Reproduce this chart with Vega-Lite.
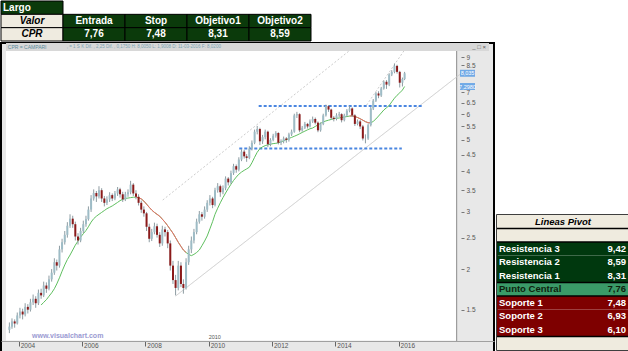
{
  "$schema": "https://vega.github.io/schema/vega-lite/v6.json",
  "padding": 0,
  "background": "white",
  "spacing": 0,
  "resolve": {"scale": {"fill": "independent", "color": "independent", "x": "independent", "y": "independent", "strokeDash": "independent"}},
  "config": {
    "font": "Liberation Sans",
    "view": {"stroke": null},
    "axis": {"grid": false, "title": null, "labelOverlap": false, "labelBound": false, "labelSeparation": 0},
    "axisX": {"offset": -11, "labelAlign": "left", "labelBaseline": "middle", "labelPadding": -1, "labelOffset": 1.5, "labelFontSize": 6.5, "labelColor": "#555555", "tickSize": 5, "tickColor": "#666666", "domainColor": "#a0a0a0", "labelOverlap": false, "labelFlush": false},
    "axisY": {"offset": -33, "labelFontSize": 6.5, "labelColor": "#555555", "tickSize": 3, "tickColor": "#777777", "domain": false, "labelPadding": 2, "labelOverlap": false, "labelFlush": false}
  },
  "datasets": {
    "top": [
      {"row": "r0", "col": "c0", "kind": "head", "t": "Largo"},
      {"row": "r1", "col": "c0", "kind": "label", "t": "Valor"},
      {"row": "r1", "col": "c1", "kind": "cell", "t": "Entrada"},
      {"row": "r1", "col": "c2", "kind": "cell", "t": "Stop"},
      {"row": "r1", "col": "c3", "kind": "cell", "t": "Objetivo1"},
      {"row": "r1", "col": "c4", "kind": "cell", "t": "Objetivo2"},
      {"row": "r2", "col": "c0", "kind": "label", "t": "CPR"},
      {"row": "r2", "col": "c1", "kind": "cell", "t": "7,76"},
      {"row": "r2", "col": "c2", "kind": "cell", "t": "7,48"},
      {"row": "r2", "col": "c3", "kind": "cell", "t": "8,31"},
      {"row": "r2", "col": "c4", "kind": "cell", "t": "8,59"}
    ],
    "pivot": [
      {"row": "h", "blk": "beige", "lab": "Lineas Pivot", "sep": false},
      {"row": "b1", "blk": "beige", "sep": true},
      {"row": "r3", "blk": "green", "lab": "Resistencia 3", "val": "9,42", "sep": true},
      {"row": "r2", "blk": "green", "lab": "Resistencia 2", "val": "8,59", "sep": false},
      {"row": "r1", "blk": "green", "lab": "Resistencia 1", "val": "8,31", "sep": false},
      {"row": "pc", "blk": "mid", "lab": "Punto Central", "val": "7,76", "sep": true},
      {"row": "s1", "blk": "red", "lab": "Soporte 1", "val": "7,48", "sep": true},
      {"row": "s2", "blk": "red", "lab": "Soporte 2", "val": "6,93", "sep": false},
      {"row": "s3", "blk": "red", "lab": "Soporte 3", "val": "6,10", "sep": false},
      {"row": "b2", "blk": "beige", "sep": true}
    ],
    "tl": [
      {"id": "L1", "style": "solid", "d": "2008-12-15", "p": 1.652},
      {"id": "L1", "style": "solid", "d": "2017-12-28", "p": 8.03},
      {"id": "D1", "style": "dash", "d": "2008-07-20", "p": 3.264},
      {"id": "D1", "style": "dash", "d": "2014-06-08", "p": 9.39},
      {"id": "D2", "style": "dash", "d": "2014-12-28", "p": 6.40},
      {"id": "D2", "style": "dash", "d": "2016-03-02", "p": 9.39}
    ],
    "hl": [
      {"id": "R", "d": "2011-08-01", "p": 6.36},
      {"id": "R", "d": "2016-10-02", "p": 6.36},
      {"id": "S", "d": "2010-12-20", "p": 4.70},
      {"id": "S", "d": "2016-02-08", "p": 4.70}
    ],
    "tags": [
      {"p": 8.02, "t": "8,035"},
      {"p": 7.30, "t": "7,2980"}
    ],
    "px": [
      {"d":"2003-09-15","o":1.30,"h":1.37,"l":1.27,"c":1.33},
      {"d":"2003-10-15","o":1.33,"h":1.41,"l":1.31,"c":1.38},
      {"d":"2003-11-15","o":1.38,"h":1.40,"l":1.32,"c":1.36},
      {"d":"2003-12-15","o":1.36,"h":1.47,"l":1.35,"c":1.44},
      {"d":"2004-01-15","o":1.44,"h":1.52,"l":1.41,"c":1.48},
      {"d":"2004-02-15","o":1.48,"h":1.51,"l":1.40,"c":1.45},
      {"d":"2004-03-15","o":1.45,"h":1.57,"l":1.43,"c":1.53},
      {"d":"2004-04-15","o":1.53,"h":1.56,"l":1.46,"c":1.50},
      {"d":"2004-05-15","o":1.50,"h":1.62,"l":1.48,"c":1.58},
      {"d":"2004-06-15","o":1.58,"h":1.67,"l":1.55,"c":1.62},
      {"d":"2004-07-15","o":1.62,"h":1.65,"l":1.52,"c":1.57},
      {"d":"2004-08-15","o":1.57,"h":1.73,"l":1.55,"c":1.69},
      {"d":"2004-09-15","o":1.69,"h":1.74,"l":1.62,"c":1.66,"ma":1.55},
      {"d":"2004-10-15","o":1.66,"h":1.83,"l":1.64,"c":1.78,"ma":1.58},
      {"d":"2004-11-15","o":1.78,"h":1.82,"l":1.69,"c":1.74,"ma":1.61},
      {"d":"2004-12-15","o":1.74,"h":1.91,"l":1.72,"c":1.86,"ma":1.65},
      {"d":"2005-01-15","o":1.86,"h":2.00,"l":1.83,"c":1.95,"ma":1.69},
      {"d":"2005-02-15","o":1.95,"h":2.16,"l":1.92,"c":2.10,"ma":1.74},
      {"d":"2005-03-15","o":2.10,"h":2.14,"l":1.98,"c":2.05,"ma":1.80},
      {"d":"2005-04-15","o":2.05,"h":2.36,"l":2.02,"c":2.30,"ma":1.88},
      {"d":"2005-05-15","o":2.30,"h":2.48,"l":2.25,"c":2.42,"ma":1.97},
      {"d":"2005-06-15","o":2.42,"h":2.62,"l":2.38,"c":2.55,"ma":2.06},
      {"d":"2005-07-15","o":2.55,"h":2.79,"l":2.50,"c":2.72,"ma":2.14},
      {"d":"2005-08-15","o":2.72,"h":2.95,"l":2.68,"c":2.86,"ma":2.21},
      {"d":"2005-09-15","o":2.86,"h":2.92,"l":2.68,"c":2.75,"ma":2.29},
      {"d":"2005-10-15","o":2.75,"h":2.80,"l":2.45,"c":2.52,"ma":2.37},
      {"d":"2005-11-15","o":2.52,"h":2.58,"l":2.38,"c":2.45,"ma":2.44},
      {"d":"2005-12-15","o":2.45,"h":2.68,"l":2.42,"c":2.62,"ma":2.51},
      {"d":"2006-01-15","o":2.62,"h":2.82,"l":2.58,"c":2.75,"ma":2.57},
      {"d":"2006-02-15","o":2.75,"h":2.92,"l":2.70,"c":2.85,"ma":2.63},
      {"d":"2006-03-15","o":2.85,"h":3.12,"l":2.82,"c":3.05,"ma":2.70},
      {"d":"2006-04-15","o":3.05,"h":3.38,"l":3.00,"c":3.30,"ma":2.79},
      {"d":"2006-05-15","o":3.30,"h":3.52,"l":3.25,"c":3.43,"ma":2.86},
      {"d":"2006-06-15","o":3.43,"h":3.48,"l":3.22,"c":3.35,"ma":2.91},
      {"d":"2006-07-15","o":3.35,"h":3.60,"l":3.30,"c":3.50,"ma":2.95},
      {"d":"2006-08-15","o":3.50,"h":3.55,"l":3.22,"c":3.30,"ma":2.99},
      {"d":"2006-09-15","o":3.30,"h":3.36,"l":3.12,"c":3.20,"ma":3.03},
      {"d":"2006-10-15","o":3.20,"h":3.35,"l":3.15,"c":3.28,"ma":3.07},
      {"d":"2006-11-15","o":3.28,"h":3.45,"l":3.22,"c":3.38,"ma":3.10},
      {"d":"2006-12-15","o":3.38,"h":3.42,"l":3.24,"c":3.30,"ma":3.13},
      {"d":"2007-01-15","o":3.30,"h":3.48,"l":3.26,"c":3.42,"ma":3.17},
      {"d":"2007-02-15","o":3.42,"h":3.58,"l":3.36,"c":3.52,"ma":3.21},
      {"d":"2007-03-15","o":3.52,"h":3.56,"l":3.32,"c":3.40,"ma":3.25},
      {"d":"2007-04-15","o":3.40,"h":3.46,"l":3.22,"c":3.28,"ma":3.28},
      {"d":"2007-05-15","o":3.28,"h":3.46,"l":3.24,"c":3.40,"ma":3.30},
      {"d":"2007-06-15","o":3.40,"h":3.52,"l":3.34,"c":3.45,"ma":3.31},
      {"d":"2007-07-15","o":3.45,"h":3.74,"l":3.40,"c":3.64,"ma":3.32},
      {"d":"2007-08-15","o":3.64,"h":3.68,"l":3.36,"c":3.42,"ma":3.33},
      {"d":"2007-09-15","o":3.42,"h":3.50,"l":3.28,"c":3.34,"ma":3.33,"rs":1},
      {"d":"2007-10-15","o":3.34,"h":3.40,"l":3.14,"c":3.20,"ma":3.32,"rs":1},
      {"d":"2007-11-15","o":3.20,"h":3.25,"l":2.98,"c":3.05,"ma":3.29,"rs":1},
      {"d":"2007-12-15","o":3.05,"h":3.12,"l":2.90,"c":2.97,"ma":3.24,"rs":1},
      {"d":"2008-01-15","o":2.97,"h":3.00,"l":2.62,"c":2.70,"ma":3.17,"rs":1},
      {"d":"2008-02-15","o":2.70,"h":2.76,"l":2.42,"c":2.48,"ma":3.10,"rs":1},
      {"d":"2008-03-15","o":2.48,"h":2.66,"l":2.44,"c":2.60,"ma":3.04,"rs":1},
      {"d":"2008-04-15","o":2.60,"h":2.78,"l":2.56,"c":2.71,"ma":2.99,"rs":1},
      {"d":"2008-05-15","o":2.71,"h":2.76,"l":2.50,"c":2.55,"ma":2.95,"rs":1},
      {"d":"2008-06-15","o":2.55,"h":2.60,"l":2.34,"c":2.40,"ma":2.91,"rs":1},
      {"d":"2008-07-15","o":2.40,"h":2.72,"l":2.36,"c":2.65,"ma":2.85,"rs":1},
      {"d":"2008-08-15","o":2.65,"h":2.70,"l":2.52,"c":2.60,"ma":2.79,"rs":1},
      {"d":"2008-09-15","o":2.60,"h":2.64,"l":2.32,"c":2.40,"ma":2.72,"rs":1},
      {"d":"2008-10-15","o":2.40,"h":2.45,"l":1.98,"c":2.05,"ma":2.65,"rs":1},
      {"d":"2008-11-15","o":2.05,"h":2.12,"l":1.80,"c":1.85,"ma":2.58,"rs":1},
      {"d":"2008-12-15","o":1.85,"h":1.92,"l":1.66,"c":1.75,"ma":2.50,"rs":1},
      {"d":"2009-01-15","o":1.75,"h":2.12,"l":1.72,"c":2.05,"ma":2.42,"rs":1},
      {"d":"2009-02-15","o":2.05,"h":2.10,"l":1.76,"c":1.80,"ma":2.35,"rs":1},
      {"d":"2009-03-15","o":1.80,"h":1.86,"l":1.68,"c":1.75,"ma":2.29,"rs":1},
      {"d":"2009-04-15","o":1.75,"h":2.16,"l":1.73,"c":2.10,"ma":2.25,"rs":1},
      {"d":"2009-05-15","o":2.10,"h":2.36,"l":2.06,"c":2.30,"ma":2.22},
      {"d":"2009-06-15","o":2.30,"h":2.52,"l":2.24,"c":2.45,"ma":2.20},
      {"d":"2009-07-15","o":2.45,"h":2.66,"l":2.40,"c":2.60,"ma":2.22},
      {"d":"2009-08-15","o":2.60,"h":2.86,"l":2.56,"c":2.80,"ma":2.25},
      {"d":"2009-09-15","o":2.80,"h":3.02,"l":2.76,"c":2.95,"ma":2.29},
      {"d":"2009-10-15","o":2.95,"h":3.00,"l":2.82,"c":2.90,"ma":2.36},
      {"d":"2009-11-15","o":2.90,"h":3.12,"l":2.86,"c":3.05,"ma":2.44},
      {"d":"2009-12-15","o":3.05,"h":3.26,"l":3.00,"c":3.20,"ma":2.53},
      {"d":"2010-01-15","o":3.20,"h":3.38,"l":3.14,"c":3.30,"ma":2.66},
      {"d":"2010-02-15","o":3.30,"h":3.34,"l":3.08,"c":3.15,"ma":2.80},
      {"d":"2010-03-15","o":3.15,"h":3.56,"l":3.12,"c":3.50,"ma":2.95},
      {"d":"2010-04-15","o":3.50,"h":3.68,"l":3.44,"c":3.60,"ma":3.08},
      {"d":"2010-05-15","o":3.60,"h":3.64,"l":3.34,"c":3.45,"ma":3.20},
      {"d":"2010-06-15","o":3.45,"h":3.62,"l":3.40,"c":3.55,"ma":3.32},
      {"d":"2010-07-15","o":3.55,"h":3.86,"l":3.50,"c":3.80,"ma":3.43},
      {"d":"2010-08-15","o":3.80,"h":3.84,"l":3.62,"c":3.70,"ma":3.54},
      {"d":"2010-09-15","o":3.70,"h":4.02,"l":3.66,"c":3.95,"ma":3.65},
      {"d":"2010-10-15","o":3.95,"h":4.22,"l":3.90,"c":4.15,"ma":3.75},
      {"d":"2010-11-15","o":4.15,"h":4.20,"l":3.96,"c":4.05,"ma":3.84},
      {"d":"2010-12-15","o":4.05,"h":4.42,"l":4.00,"c":4.35,"ma":3.92},
      {"d":"2011-01-15","o":4.35,"h":4.68,"l":4.30,"c":4.60,"ma":3.98},
      {"d":"2011-02-15","o":4.60,"h":4.66,"l":4.38,"c":4.45,"ma":4.03},
      {"d":"2011-03-15","o":4.45,"h":4.52,"l":4.28,"c":4.40,"ma":4.07},
      {"d":"2011-04-15","o":4.40,"h":4.78,"l":4.36,"c":4.70,"ma":4.12},
      {"d":"2011-05-15","o":4.70,"h":4.98,"l":4.64,"c":4.90,"ma":4.25},
      {"d":"2011-06-15","o":4.90,"h":5.38,"l":4.85,"c":5.30,"ma":4.42},
      {"d":"2011-07-15","o":5.30,"h":5.52,"l":5.20,"c":5.40,"ma":4.58},
      {"d":"2011-08-15","o":5.40,"h":5.45,"l":4.82,"c":4.95,"ma":4.70},
      {"d":"2011-09-15","o":4.95,"h":5.18,"l":4.86,"c":5.10,"ma":4.76},
      {"d":"2011-10-15","o":5.10,"h":5.38,"l":5.02,"c":5.30,"ma":4.80},
      {"d":"2011-11-15","o":5.30,"h":5.34,"l":4.75,"c":4.85,"ma":4.83},
      {"d":"2011-12-15","o":4.85,"h":5.06,"l":4.78,"c":5.00,"ma":4.85},
      {"d":"2012-01-15","o":5.00,"h":5.22,"l":4.95,"c":5.15,"ma":4.87},
      {"d":"2012-02-15","o":5.15,"h":5.32,"l":5.08,"c":5.25,"ma":4.88},
      {"d":"2012-03-15","o":5.25,"h":5.28,"l":4.84,"c":4.90,"ma":4.90},
      {"d":"2012-04-15","o":4.90,"h":5.02,"l":4.82,"c":4.95,"ma":4.93},
      {"d":"2012-05-15","o":4.95,"h":5.12,"l":4.88,"c":5.05,"ma":4.97},
      {"d":"2012-06-15","o":5.05,"h":5.10,"l":4.90,"c":5.00,"ma":5.01},
      {"d":"2012-07-15","o":5.00,"h":5.26,"l":4.94,"c":5.20,"ma":5.05},
      {"d":"2012-08-15","o":5.20,"h":5.38,"l":5.14,"c":5.30,"ma":5.09},
      {"d":"2012-09-15","o":5.30,"h":6.02,"l":5.26,"c":5.95,"ma":5.13},
      {"d":"2012-10-15","o":5.95,"h":6.10,"l":5.84,"c":6.00,"ma":5.17},
      {"d":"2012-11-15","o":6.00,"h":6.04,"l":5.28,"c":5.35,"ma":5.22},
      {"d":"2012-12-15","o":5.35,"h":5.52,"l":5.30,"c":5.45,"ma":5.27},
      {"d":"2013-01-15","o":5.45,"h":5.68,"l":5.40,"c":5.60,"ma":5.32},
      {"d":"2013-02-15","o":5.60,"h":5.64,"l":5.42,"c":5.50,"ma":5.37},
      {"d":"2013-03-15","o":5.50,"h":5.78,"l":5.46,"c":5.70,"ma":5.41},
      {"d":"2013-04-15","o":5.70,"h":5.90,"l":5.64,"c":5.80,"ma":5.44},
      {"d":"2013-05-15","o":5.80,"h":5.86,"l":5.58,"c":5.65,"ma":5.50},
      {"d":"2013-06-15","o":5.65,"h":5.70,"l":5.28,"c":5.35,"ma":5.56},
      {"d":"2013-07-15","o":5.35,"h":5.66,"l":5.30,"c":5.60,"ma":5.62},
      {"d":"2013-08-15","o":5.60,"h":6.02,"l":5.55,"c":5.95,"ma":5.68},
      {"d":"2013-09-15","o":5.95,"h":6.42,"l":5.90,"c":6.35,"ma":5.72},
      {"d":"2013-10-15","o":6.35,"h":6.40,"l":6.10,"c":6.20,"ma":5.75},
      {"d":"2013-11-15","o":6.20,"h":6.24,"l":5.78,"c":5.85,"ma":5.78},
      {"d":"2013-12-15","o":5.85,"h":5.92,"l":5.70,"c":5.80,"ma":5.81},
      {"d":"2014-01-15","o":5.80,"h":6.04,"l":5.74,"c":5.95,"ma":5.83},
      {"d":"2014-02-15","o":5.95,"h":6.10,"l":5.88,"c":6.00,"ma":5.84},
      {"d":"2014-03-15","o":6.00,"h":6.04,"l":5.66,"c":5.75,"ma":5.86},
      {"d":"2014-04-15","o":5.75,"h":6.02,"l":5.70,"c":5.95,"ma":5.88},
      {"d":"2014-05-15","o":5.95,"h":6.22,"l":5.90,"c":6.15,"ma":5.90},
      {"d":"2014-06-15","o":6.15,"h":6.36,"l":6.08,"c":6.25,"ma":5.92,"rs":2},
      {"d":"2014-07-15","o":6.25,"h":6.30,"l":5.88,"c":5.95,"ma":5.93,"rs":2},
      {"d":"2014-08-15","o":5.95,"h":6.00,"l":5.52,"c":5.60,"ma":5.90,"rs":2},
      {"d":"2014-09-15","o":5.60,"h":5.78,"l":5.54,"c":5.70,"ma":5.86,"rs":2},
      {"d":"2014-10-15","o":5.70,"h":5.76,"l":5.40,"c":5.50,"ma":5.81,"rs":2},
      {"d":"2014-11-15","o":5.50,"h":5.56,"l":4.98,"c":5.05,"ma":5.75,"rs":2},
      {"d":"2014-12-15","o":5.05,"h":5.20,"l":4.88,"c":5.05,"ma":5.69,"rs":2},
      {"d":"2015-01-15","o":5.05,"h":5.62,"l":5.00,"c":5.55,"ma":5.65,"rs":2},
      {"d":"2015-02-15","o":5.55,"h":6.32,"l":5.50,"c":6.25,"ma":5.64,"rs":2},
      {"d":"2015-03-15","o":6.25,"h":6.68,"l":6.18,"c":6.60,"ma":5.70},
      {"d":"2015-04-15","o":6.60,"h":7.02,"l":6.54,"c":6.95,"ma":5.80},
      {"d":"2015-05-15","o":6.95,"h":7.06,"l":6.72,"c":6.85,"ma":5.92},
      {"d":"2015-06-15","o":6.85,"h":7.28,"l":6.78,"c":7.20,"ma":6.05},
      {"d":"2015-07-15","o":7.20,"h":7.62,"l":7.14,"c":7.55,"ma":6.18},
      {"d":"2015-08-15","o":7.55,"h":7.64,"l":7.18,"c":7.40,"ma":6.28},
      {"d":"2015-09-15","o":7.40,"h":8.02,"l":7.32,"c":7.95,"ma":6.38},
      {"d":"2015-10-15","o":7.95,"h":8.20,"l":7.86,"c":8.10,"ma":6.55},
      {"d":"2015-11-15","o":8.10,"h":8.60,"l":8.02,"c":8.45,"ma":6.72},
      {"d":"2015-12-15","o":8.45,"h":8.52,"l":8.00,"c":8.10,"ma":6.86},
      {"d":"2016-01-15","o":8.10,"h":8.16,"l":7.25,"c":7.50,"ma":6.98},
      {"d":"2016-02-15","o":7.50,"h":7.78,"l":7.30,"c":7.70,"ma":7.12},
      {"d":"2016-03-11","o":7.70,"h":8.10,"l":7.64,"c":8.02,"ma":7.30}
    ]
  },
  "hconcat": [
    {
      "spacing": 0,
      "resolve": {"scale": {"fill": "independent", "color": "independent", "x": "independent", "y": "independent"}},
      "vconcat": [
        {
          "width": 310,
          "height": 40,
          "data": {"name": "top"},
          "layer": [
            {
              "mark": {"type": "rect", "stroke": "#000000", "strokeWidth": 1},
              "encoding": {
                "x": {"field": "col", "type": "nominal", "scale": {"type": "band", "domain": ["c0", "c1", "c2", "c3", "c4"], "paddingInner": 0, "paddingOuter": 0}, "axis": null},
                "y": {"field": "row", "type": "nominal", "scale": {"type": "band", "domain": ["r0", "r1", "r2"], "paddingInner": 0, "paddingOuter": 0}, "axis": null},
                "fill": {"field": "kind", "type": "nominal", "scale": {"domain": ["head", "label", "cell"], "range": ["#0b3a0b", "#efebe0", "#0b3a0b"]}, "legend": null}
              }
            },
            {
              "transform": [{"filter": "datum.kind == 'cell'"}],
              "mark": {"type": "text", "fontWeight": "bold", "fontSize": 10, "color": "#ffffff"},
              "encoding": {
                "x": {"field": "col", "type": "nominal", "scale": {"type": "band"}, "axis": null},
                "y": {"field": "row", "type": "nominal", "scale": {"type": "band"}, "axis": null},
                "text": {"field": "t"}
              }
            },
            {
              "transform": [{"filter": "datum.kind == 'head'"}],
              "mark": {"type": "text", "fontWeight": "bold", "fontSize": 10, "color": "#ffffff", "align": "left", "dx": 2},
              "encoding": {
                "x": {"field": "col", "type": "nominal", "bandPosition": 0, "scale": {"type": "band"}, "axis": null},
                "y": {"field": "row", "type": "nominal", "scale": {"type": "band"}, "axis": null},
                "text": {"field": "t"}
              }
            },
            {
              "transform": [{"filter": "datum.kind == 'label'"}],
              "mark": {"type": "text", "fontWeight": "bold", "fontStyle": "italic", "fontSize": 10, "color": "#000000"},
              "encoding": {
                "x": {"field": "col", "type": "nominal", "scale": {"type": "band"}, "axis": null},
                "y": {"field": "row", "type": "nominal", "scale": {"type": "band"}, "axis": null},
                "text": {"field": "t"}
              }
            }
          ]
        },
        {
          "width": 493,
          "height": 309,
          "view": {"fill": "#e8e8e8", "stroke": "#000000", "strokeWidth": 2},
          "layer": [
            {
              "data": {"values": [{}]},
              "mark": {"type": "rect", "color": "#ffffff"},
              "encoding": {
                "x": {"datum": {"year": 2003, "month": 8, "date": 7}, "type": "temporal", "title": null},
                "x2": {"datum": {"year": 2017, "month": 11, "date": 2}},
                "y": {"datum": 1.205, "type": "quantitative", "title": null, "scale": {"type": "log"}},
                "y2": {"datum": 9.391}
              }
            },
            {
              "data": {"values": [{}]},
              "mark": {"type": "rect", "color": "#d8d8d8"},
              "encoding": {
                "x": {"datum": {"year": 2003, "month": 8, "date": 7}, "type": "temporal", "title": null},
                "x2": {"datum": {"year": 2018, "month": 11, "date": 10}},
                "y": {"datum": 9.391, "type": "quantitative", "title": null, "scale": {"type": "log"}},
                "y2": {"datum": 9.94}
              }
            },
            {
              "data": {"values": [{}]},
              "mark": {"type": "rule", "color": "#8a8a8a", "strokeWidth": 1},
              "encoding": {
                "x": {"datum": {"year": 2017, "month": 11, "date": 2}, "type": "temporal", "title": null},
                "y": {"datum": 1.2009, "type": "quantitative", "title": null, "scale": {"type": "log"}},
                "y2": {"datum": 9.391}
              }
            },
            {
              "data": {"name": "tl"},
              "mark": {"type": "line", "color": "#cccccc", "strokeWidth": 1, "clip": true},
              "encoding": {
                "x": {"field": "d", "type": "temporal", "title": null},
                "y": {"field": "p", "type": "quantitative", "title": null, "scale": {"type": "log"}},
                "detail": {"field": "id"},
                "strokeDash": {"field": "style", "type": "nominal", "scale": {"domain": ["solid", "dash"], "range": [[1, 0], [2, 2]]}, "legend": null}
              }
            },
            {
              "data": {"name": "hl"},
              "mark": {"type": "line", "color": "#4a86e0", "strokeWidth": 2, "strokeDash": [3, 2], "clip": true},
              "encoding": {
                "x": {"field": "d", "type": "temporal", "title": null},
                "y": {"field": "p", "type": "quantitative", "title": null, "scale": {"type": "log"}},
                "detail": {"field": "id"}
              }
            },
            {
              "data": {"name": "px"},
              "transform": [{"filter": "isValid(datum.ma)"}],
              "mark": {"type": "line", "color": "#5fbf5f", "strokeWidth": 1, "clip": true},
              "encoding": {
                "x": {"field": "d", "type": "temporal", "title": null},
                "y": {"field": "ma", "type": "quantitative", "title": null, "scale": {"type": "log"}}
              }
            },
            {
              "data": {"name": "px"},
              "transform": [{"filter": "isValid(datum.rs)"}],
              "mark": {"type": "line", "color": "#f06a6a", "strokeWidth": 1, "clip": true},
              "encoding": {
                "x": {"field": "d", "type": "temporal", "title": null},
                "y": {"field": "ma", "type": "quantitative", "title": null, "scale": {"type": "log"}},
                "detail": {"field": "rs"}
              }
            },
            {
              "data": {"name": "px"},
              "mark": {"type": "rule", "color": "#8e9ca2", "strokeWidth": 1, "clip": true},
              "encoding": {
                "x": {"field": "d", "type": "temporal", "title": null,
                  "scale": {"domain": [{"year": 2003, "month": 8, "date": 7}, {"year": 2018, "month": 11, "date": 10}], "nice": false},
                  "axis": {"orient": "bottom", "labelOverlap": false, "labelSeparation": 0, "labelBound": false,
                    "values": [1072915200000, 1104537600000, 1136073600000, 1167609600000, 1199145600000, 1230768000000, 1262304000000, 1293840000000, 1325376000000, 1356998400000, 1388534400000, 1420070400000, 1451606400000, 1483228800000],
                    "labelExpr": "utcFormat(datum.value, '%Y')"}},
                "y": {"field": "l", "type": "quantitative", "title": null,
                  "scale": {"type": "log", "domain": [1.111, 9.94], "nice": false},
                  "axis": {"orient": "right", "labelOverlap": false, "labelSeparation": 0, "labelBound": false,
                    "values": [1.5, 2, 2.5, 3, 3.5, 4, 4.5, 5, 5.5, 6, 6.5, 7, 8.5, 9],
                    "labelExpr": "format(datum.value, '~g')"}},
                "y2": {"field": "h"}
              }
            },
            {
              "data": {"name": "px"},
              "mark": {"type": "bar", "width": 2, "clip": true},
              "encoding": {
                "x": {"field": "d", "type": "temporal", "title": null},
                "y": {"field": "o", "type": "quantitative", "title": null, "scale": {"type": "log"}},
                "y2": {"field": "c"},
                "color": {"condition": {"test": "datum.c >= datum.o", "value": "#9ebcc6"}, "value": "#8b1a1a"}
              }
            },
            {
              "data": {"name": "tags"},
              "mark": {"type": "tick", "orient": "horizontal", "size": 15, "thickness": 7, "color": "#3d8fe6"},
              "encoding": {
                "x": {"datum": {"year": 2018, "month": 3, "date": 7}, "type": "temporal", "title": null},
                "y": {"field": "p", "type": "quantitative", "title": null, "scale": {"type": "log"}}
              }
            },
            {
              "data": {"name": "tags"},
              "mark": {"type": "text", "color": "#ffffff", "fontSize": 5.5},
              "encoding": {
                "x": {"datum": {"year": 2018, "month": 3, "date": 7}, "type": "temporal", "title": null},
                "y": {"field": "p", "type": "quantitative", "title": null, "scale": {"type": "log"}},
                "text": {"field": "t"}
              }
            },
            {
              "data": {"values": [{"t": "www.visualchart.com"}]},
              "mark": {"type": "text", "color": "#9a9ad2", "fontSize": 7, "fontWeight": "bold"},
              "encoding": {
                "x": {"datum": {"year": 2005, "month": 7, "date": 19}, "type": "temporal", "title": null},
                "y": {"datum": 1.245, "type": "quantitative", "title": null, "scale": {"type": "log"}},
                "text": {"field": "t"}
              }
            },
            {
              "data": {"values": [{"t": "2010"}]},
              "mark": {"type": "text", "color": "#555555", "fontSize": 5.5, "align": "left"},
              "encoding": {
                "x": {"datum": {"year": 2010, "month": 1, "date": 1}, "type": "temporal", "title": null},
                "y": {"datum": 1.232, "type": "quantitative", "title": null, "scale": {"type": "log"}},
                "text": {"field": "t"}
              }
            },
            {
              "data": {"values": [{"t": "CPR = CAMPARI"}]},
              "mark": {"type": "text", "color": "#5a8a9a", "fontSize": 5, "align": "left"},
              "encoding": {
                "x": {"datum": {"year": 2003, "month": 8, "date": 28}, "type": "temporal", "title": null},
                "y": {"datum": 9.63, "type": "quantitative", "title": null, "scale": {"type": "log"}},
                "text": {"field": "t"}
              }
            },
            {
              "data": {"values": [{"t": ",  =  1 S K Dif. ,  2,25 Dif. ,  0,1750 H: 8,0050 L: 1,9008 D: 11-03-2016 F: 8,0200"}]},
              "mark": {"type": "text", "color": "#7aa2b2", "fontSize": 4.5, "align": "left"},
              "encoding": {
                "x": {"datum": {"year": 2005, "month": 7, "date": 8}, "type": "temporal", "title": null},
                "y": {"datum": 9.63, "type": "quantitative", "title": null, "scale": {"type": "log"}},
                "text": {"field": "t"}
              }
            },
            {
              "data": {"values": [{"t": "_ □ ×"}]},
              "mark": {"type": "text", "color": "#555555", "fontSize": 6, "align": "center"},
              "encoding": {
                "x": {"datum": {"year": 2018, "month": 7, "date": 20}, "type": "temporal", "title": null},
                "y": {"datum": 9.63, "type": "quantitative", "title": null, "scale": {"type": "log"}},
                "text": {"field": "t"}
              }
            }
          ]
        }
      ]
    },
    {
      "spacing": 0,
      "vconcat": [
        {
          "width": 132,
          "height": 213,
          "data": {"values": [{}]},
          "mark": {"type": "point", "opacity": 0},
          "encoding": {}
        },
        {
          "width": 132,
          "height": 135,
          "view": {"stroke": "#000000", "strokeWidth": 1.5},
          "data": {"name": "pivot"},
          "layer": [
            {
              "mark": {"type": "rect"},
              "encoding": {
                "y": {"field": "row", "type": "nominal", "scale": {"type": "band", "domain": ["h", "b1", "r3", "r2", "r1", "pc", "s1", "s2", "s3", "b2"], "paddingInner": 0, "paddingOuter": 0}, "axis": null},
                "fill": {"field": "blk", "type": "nominal", "scale": {"domain": ["beige", "green", "mid", "red"], "range": ["#efebdf", "#00380e", "#3a9a68", "#7e0000"]}, "legend": null}
              }
            },
            {
              "transform": [{"filter": "datum.sep"}],
              "mark": {"type": "rule", "color": "#000000", "strokeWidth": 1.5},
              "encoding": {
                "y": {"field": "row", "type": "nominal", "bandPosition": 0, "scale": {"type": "band"}, "axis": null}
              }
            },
            {
              "transform": [{"filter": "datum.row == 'h'"}],
              "mark": {"type": "text", "fontWeight": "bold", "fontStyle": "italic", "fontSize": 9.5, "color": "#000000"},
              "encoding": {
                "y": {"field": "row", "type": "nominal", "scale": {"type": "band"}, "axis": null},
                "text": {"field": "lab"}
              }
            },
            {
              "transform": [{"filter": "isValid(datum.val)"}],
              "mark": {"type": "text", "fontWeight": "bold", "fontSize": 9.5, "align": "left", "dx": 2},
              "encoding": {
                "x": {"datum": "L", "type": "nominal", "bandPosition": 0, "scale": {"type": "band", "domain": ["L", "V"], "paddingInner": 0, "paddingOuter": 0}, "axis": null},
                "y": {"field": "row", "type": "nominal", "scale": {"type": "band"}, "axis": null},
                "text": {"field": "lab"},
                "color": {"condition": {"test": "datum.blk == 'mid'", "value": "#0d1f0d"}, "value": "#ffffff"}
              }
            },
            {
              "transform": [{"filter": "isValid(datum.val)"}],
              "mark": {"type": "text", "fontWeight": "bold", "fontSize": 9.5, "align": "right", "dx": -3},
              "encoding": {
                "x": {"datum": "V", "type": "nominal", "bandPosition": 1, "scale": {"type": "band"}, "axis": null},
                "y": {"field": "row", "type": "nominal", "scale": {"type": "band"}, "axis": null},
                "text": {"field": "val"},
                "color": {"condition": {"test": "datum.blk == 'mid'", "value": "#0d1f0d"}, "value": "#ffffff"}
              }
            }
          ]
        }
      ]
    }
  ]
}
